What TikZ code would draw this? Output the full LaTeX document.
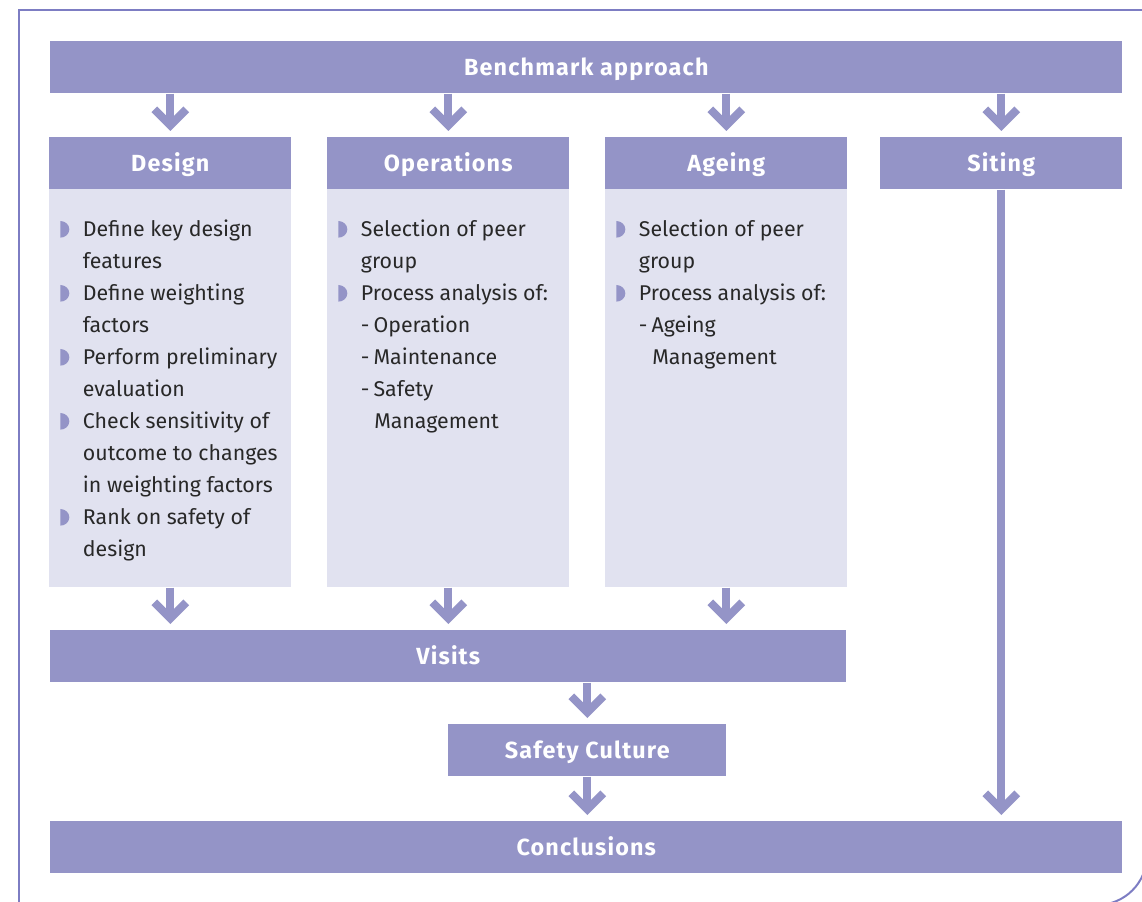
\documentclass[tikz,border=0pt]{standalone}
\usepackage{fontspec}
\setmainfont{Fira Sans}
\newfontfamily\headfont[LetterSpace=5]{Fira Sans}
\usetikzlibrary{arrows.meta}
\definecolor{boxc}{RGB}{148,148,199}
\definecolor{panelc}{RGB}{225,226,240}
\definecolor{txtc}{RGB}{40,40,40}
\definecolor{framec}{RGB}{125,125,195}
\newcommand\bul{\tikz[baseline=0pt,x=1pt,y=1pt]\fill[boxc] (0,-0.5) -- (0,12) arc[start angle=90,end angle=-90,x radius=6.8,y radius=6.25] -- cycle;}
\newcommand\itm[1]{\par\noindent\hangindent=17pt\hangafter=1\makebox[17pt][l]{\bul}#1}
\newcommand\subitm[1]{\par\noindent\hangindent=27pt\hangafter=1\hspace*{17pt}\makebox[9.5pt][l]{-}#1}
\tikzset{
  hdr/.style={fill=boxc, draw=none, text=white, font=\headfont\bfseries\fontsize{17.5}{19}\selectfont, anchor=north west, inner sep=0pt, minimum height=39pt, text height=12pt, text depth=0pt},
  panel/.style={fill=panelc, draw=none, anchor=north west, inner sep=0pt, minimum width=181.5pt, minimum height=298.5pt},
  flow/.style={draw=boxc, line width=6pt, -{Straight Barb[angle=90:17pt, line cap=butt, line join=miter]}, shorten >=4.5pt},
  body/.style={anchor=base west, inner sep=0pt, text=txtc, font=\fontsize{16}{24}\selectfont},
  frame/.style={draw=framec, line width=1.5pt}
}
\begin{document}
\begin{tikzpicture}[x=0.75pt,y=-0.75pt]
\useasboundingbox (0,0) rectangle (1142,902);
% frame
\draw[frame] (19,910) -- (19,10) -- (1160,10);
\draw[frame, rounded corners=37.5pt] (1147,700) -- (1147,905) -- (900,905);
% boxes
\node[hdr, minimum width=804pt] (bench) at (50,41) {Benchmark approach};
\node[hdr, minimum width=181.5pt] (design) at (49,137) {Design};
\node[hdr, minimum width=181.5pt] (ops) at (327,137) {Operations};
\node[hdr, minimum width=181.5pt] (age) at (605,137) {Ageing};
\node[hdr, minimum width=181.5pt] (siting) at (880,137) {Siting};
\node[panel] (dp) at (49,189) {};
\node[panel] (op) at (327,189) {};
\node[panel] (ap) at (605,189) {};
\node[hdr, minimum width=597pt] (visits) at (50,630) {Visits};
\node[hdr, minimum width=208.5pt] (safety) at (448,724) {Safety Culture};
\node[hdr, minimum width=804pt] (concl) at (50,821) {Conclusions};
% texts
\node[body] (dt) at (60,237) {\begin{minipage}[t]{230pt}\fontsize{16}{24}\selectfont
\itm{Define key design\\features}
\itm{Define weighting\\factors}
\itm{Perform preliminary\\evaluation}
\itm{Check sensitivity of\\outcome to changes\\in weighting factors}
\itm{Rank on safety of\\design}
\end{minipage}};
\node[body] (ot) at (338,237) {\begin{minipage}[t]{230pt}\fontsize{16}{24}\selectfont
\itm{Selection of peer\\group}
\itm{Process analysis of:}
\subitm{Operation}
\subitm{Maintenance}
\subitm{Safety\\Management}
\end{minipage}};
\node[body] (at) at (616,237) {\begin{minipage}[t]{230pt}\fontsize{16}{24}\selectfont
\itm{Selection of peer\\group}
\itm{Process analysis of:}
\subitm{Ageing\\Management}
\end{minipage}};
% connectors
\draw[flow] (bench.south -| design.north) -- (design.north);
\draw[flow] (bench.south -| ops.north) -- (ops.north);
\draw[flow] (bench.south -| age.north) -- (age.north);
\draw[flow] (bench.south -| siting.north) -- (siting.north);
\draw[flow] (dp.south) -- (dp.south |- visits.north);
\draw[flow] (op.south) -- (op.south |- visits.north);
\draw[flow] (ap.south) -- (ap.south |- visits.north);
\draw[flow] (visits.south -| safety.north) -- (safety.north);
\draw[flow] (safety.south) -- (safety.south |- concl.north);
\draw[flow] (siting.south) -- (siting.south |- concl.north);
\end{tikzpicture}
\end{document}
